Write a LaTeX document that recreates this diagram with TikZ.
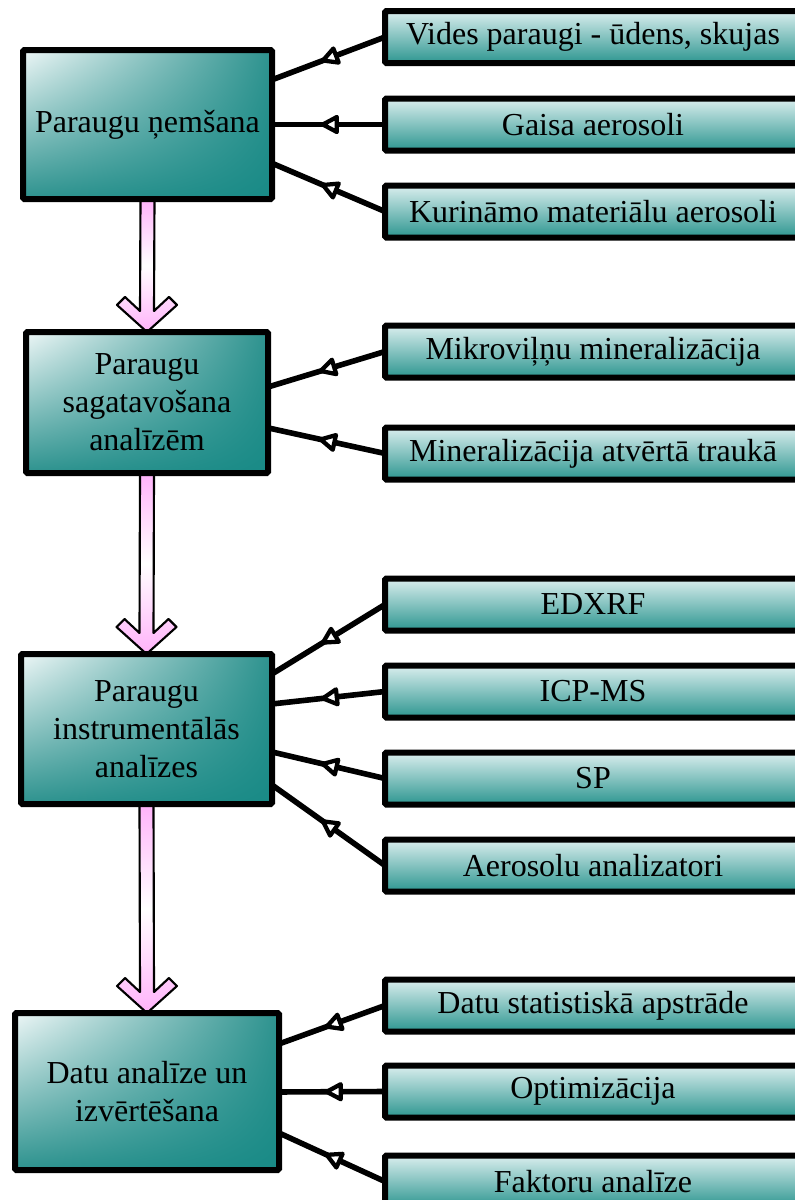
\documentclass[tikz,border=0pt]{standalone}
\usepackage{fontspec}
\setmainfont{Liberation Serif}
\usetikzlibrary{arrows.meta,decorations.markings,backgrounds,calc,shadings}
\newlength\pxu \setlength\pxu{0.75pt}
\definecolor{tealD}{RGB}{24,138,134}
\definecolor{tealL}{RGB}{238,247,247}
\definecolor{tealM}{RGB}{45,146,142}
\definecolor{boxTop}{RGB}{218,238,238}
\definecolor{boxMid}{RGB}{180,220,218}
\definecolor{boxBot}{RGB}{45,150,144}
\definecolor{pinkA}{RGB}{255,178,250}
\newcommand\blockarrow[2]{%
  \path (#1.south) coordinate (ba-s) (#2.north) coordinate (ba-t);
  \path[pinkarrow] (ba-t) -- ([shift={(-30,-27)}]ba-t) -- ([shift={(-22,-35)}]ba-t)
    -- ([shift={(-7,-21)}]ba-t) -- ([shift={(-7,0)}]ba-s) -- ([shift={(7,0)}]ba-s)
    -- ([shift={(7,-21)}]ba-t) -- ([shift={(22,-35)}]ba-t) -- ([shift={(30,-27)}]ba-t) -- cycle;}
\begin{document}
\begin{tikzpicture}[x=0.75pt,y=-0.75pt,
  mainbox/.style={draw=black, line width=4.5pt, rounded corners=1pt, inner sep=0pt, outer sep=0pt,
    align=center, font=\fontsize{24}{28.5}\selectfont,
    upper left=tealL, upper right=tealM, lower left=tealM, lower right=tealD},
  subbox/.style={draw=black, line width=4.5pt, rounded corners=1pt, inner sep=0pt, outer sep=0pt,
    minimum width=416\pxu, minimum height=52\pxu,
    top color=boxTop, middle color=boxMid, bottom color=boxBot,
    font=\fontsize{24}{28.5}\selectfont},
  conn/.style={line width=4.2pt, postaction={decorate},
    decoration={markings, mark=at position 0.55 with {\draw[fill=white, line width=3.2pt, line join=round] (0,0) -- (-14,7.5) -- (-14,-7.5) -- cycle;}}},
  pinkarrow/.style={draw=black, line width=1.6pt, top color=pinkA, bottom color=pinkA, middle color=white, line join=round}
]
\useasboundingbox (0,0) rectangle (795,1200);
\clip (0,0) rectangle (795,1200);

% main boxes
\node[mainbox, minimum width=249\pxu, minimum height=149\pxu] (m1) at (147.5,124.5) {Paraugu ņemšana};
\node[mainbox, minimum width=242\pxu, minimum height=141\pxu] (m2) at (147,402.5) {Paraugu\\sagatavošana\\analīzēm};
\node[mainbox, minimum width=251\pxu, minimum height=150\pxu] (m3) at (146.5,729) {Paraugu\\instrumentālās\\analīzes};
\node[mainbox, minimum width=264\pxu, minimum height=157\pxu] (m4) at (147,1091.5) {Datu analīze un\\izvērtēšana};

% side boxes
\node[subbox] (r11) at (593,37) {Vides paraugi - ūdens, skujas};
\node[subbox] (r12) at (593,124.5) {Gaisa aerosoli};
\node[subbox] (r13) at (593,211.5) {Kurināmo materiālu aerosoli};
\node[subbox] (r21) at (593,351.5) {Mikroviļņu mineralizācija};
\node[subbox] (r22) at (593,453.5) {Mineralizācija atvērtā traukā};
\node[subbox] (r31) at (593,604.5) {EDXRF};
\node[subbox] (r32) at (593,691.5) {ICP-MS};
\node[subbox] (r33) at (593,778.5) {SP};
\node[subbox] (r34) at (593,865.5) {Aerosolu analizatori};
\node[subbox] (r41) at (593,1005.5) {Datu statistiskā apstrāde};
\node[subbox] (r42) at (593,1091.5) {Optimizācija};
\node[subbox] (r43) at (593,1181.5) {Faktoru analīze};

% connectors
\draw[conn] (r11.west) -- ($(m1.north east)!0.20!(m1.south east)$);
\draw[conn] (r12.west) -- ($(m1.north east)!0.50!(m1.south east)$);
\draw[conn] (r13.west) -- ($(m1.north east)!0.76!(m1.south east)$);
\draw[conn] (r21.west) -- ($(m2.north east)!0.39!(m2.south east)$);
\draw[conn] (r22.west) -- ($(m2.north east)!0.68!(m2.south east)$);
\draw[conn] (r31.west) -- ($(m3.north east)!0.133!(m3.south east)$);
\draw[conn] (r32.west) -- ($(m3.north east)!0.333!(m3.south east)$);
\draw[conn] (r33.west) -- ($(m3.north east)!0.653!(m3.south east)$);
\draw[conn] (r34.west) -- ($(m3.north east)!0.873!(m3.south east)$);
\draw[conn] (r41.west) -- ($(m4.north east)!0.197!(m4.south east)$);
\draw[conn] (r42.west) -- ($(m4.north east)!0.503!(m4.south east)$);
\draw[conn] (r43.west) -- ($(m4.north east)!0.764!(m4.south east)$);

% block arrows
\begin{pgfonlayer}{background}
\blockarrow{m1}{m2}
\blockarrow{m2}{m3}
\blockarrow{m3}{m4}
\end{pgfonlayer}
\end{tikzpicture}
\end{document}
